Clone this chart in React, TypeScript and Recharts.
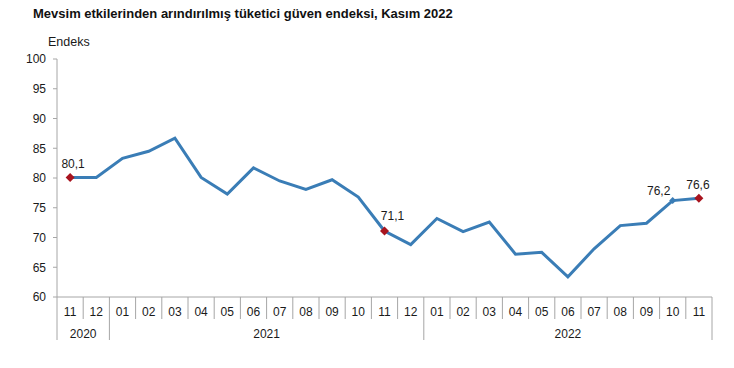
import { LineChart, Line, XAxis, YAxis, LabelList } from 'recharts';

const months = [
  '11', '12',
  '01', '02', '03', '04', '05', '06', '07', '08', '09', '10', '11', '12',
  '01', '02', '03', '04', '05', '06', '07', '08', '09', '10', '11',
];
const years = [
  '2020', '2020',
  '2021', '2021', '2021', '2021', '2021', '2021', '2021', '2021', '2021', '2021', '2021', '2021',
  '2022', '2022', '2022', '2022', '2022', '2022', '2022', '2022', '2022', '2022', '2022',
];
const values = [
  80.1, 80.1,
  83.3, 84.5, 86.7, 80.1, 77.3, 81.7, 79.5, 78.1, 79.7, 76.8, 71.1, 68.8,
  73.2, 71.0, 72.6, 67.2, 67.5, 63.4, 68.1, 72.0, 72.4, 76.2, 76.6,
];
const yTicks = [60, 65, 70, 75, 80, 85, 90, 95, 100];
// points that get a marker and a value label
const redPoints = [0, 12, 24];
const bluePoints = [23];

const data = months.map((m, i) => ({ key: `${years[i]}-${m}-${i}`, month: m, year: years[i], value: values[i] }));

const W = 734;
const H = 368;
const PLOT_LEFT = 57;
const PLOT_RIGHT = 712;
const PLOT_TOP = 59;
const PLOT_BOTTOM = 297;
const BAND = (PLOT_RIGHT - PLOT_LEFT) / months.length;
const AXIS = '#a6a6a6';
const TEXT = '#1a1a1a';
const FONT = '"Liberation Sans", Arial, sans-serif';

const labelShift: Record<number, [number, number]> = {
  0: [3, -9],
  12: [8, -11],
  23: [-14, -6],
  24: [-1, -9],
};

const isYearEnd = (i: number) => i === months.length - 1 || years[i + 1] !== years[i];

function MonthTick(props: any) {
  const { x, y, payload } = props;
  const i = payload.index as number;
  const right = x + BAND / 2;
  const left = x - BAND / 2;
  let yearLabel = null;
  if (i === 0 || years[i - 1] !== years[i]) {
    let last = i;
    while (last + 1 < years.length && years[last + 1] === years[i]) last++;
    yearLabel = (
      <text x={x + ((last - i) * BAND) / 2} y={y + 41} textAnchor="middle" fontSize={12} fill={TEXT} fontFamily={FONT}>
        {years[i]}
      </text>
    );
  }
  return (
    <g>
      {i === 0 && <line x1={left} x2={left} y1={y} y2={y + 43} stroke={AXIS} />}
      <line x1={right} x2={right} y1={y} y2={isYearEnd(i) ? y + 43 : y + 22} stroke={AXIS} />
      <text x={x} y={y + 19} textAnchor="middle" fontSize={12} fill={TEXT} fontFamily={FONT}>
        {months[i]}
      </text>
      {yearLabel}
    </g>
  );
}

function Marker(props: any) {
  const { cx, cy, index } = props;
  if (redPoints.includes(index)) {
    const r = 4.5;
    return (
      <path
        key={`d${index}`}
        d={`M${cx},${cy - r}L${cx + r},${cy}L${cx},${cy + r}L${cx - r},${cy}Z`}
        fill="#a8141f"
      />
    );
  }
  if (bluePoints.includes(index)) {
    const r = 3.5;
    return (
      <path
        key={`d${index}`}
        d={`M${cx},${cy - r}L${cx + r},${cy}L${cx},${cy + r}L${cx - r},${cy}Z`}
        fill="#3a7db6"
      />
    );
  }
  return <g key={`d${index}`} />;
}

function ValueLabel(props: any) {
  const { x, y, index, value } = props;
  const shift = labelShift[index];
  if (!shift) return null;
  return (
    <text x={x + shift[0]} y={y + shift[1]} textAnchor="middle" fontSize={12} fill={TEXT} fontFamily={FONT}>
      {String(value).replace('.', ',')}
    </text>
  );
}

export default function App() {
  return (
    <div style={{ position: 'absolute', left: 0, top: 0, width: W, height: H, background: '#fff' }}>
      <div
        style={{
          position: 'absolute',
          left: 33,
          top: 6,
          fontFamily: FONT,
          fontWeight: 'bold',
          fontSize: 13,
          color: '#111',
          whiteSpace: 'nowrap',
        }}
      >
        Mevsim etkilerinden arındırılmış tüketici güven endeksi, Kasım 2022
      </div>
      <div style={{ position: 'absolute', left: 48, top: 35, fontFamily: FONT, fontSize: 12.5, color: TEXT }}>
        Endeks
      </div>
      <LineChart
        width={W}
        height={H}
        data={data}
        margin={{ top: PLOT_TOP, right: W - PLOT_RIGHT, bottom: 0, left: 0 }}
      >
        <XAxis
          dataKey="key"
          scale="band"
          height={H - PLOT_BOTTOM}
          interval={0}
          tickLine={false}
          tickSize={0}
          tickMargin={0}
          axisLine={{ stroke: AXIS }}
          tick={MonthTick}
        />
        <YAxis
          width={PLOT_LEFT}
          domain={[60, 100]}
          ticks={yTicks}
          interval={0}
          tickSize={4}
          tickMargin={7}
          axisLine={{ stroke: AXIS }}
          tickLine={{ stroke: AXIS }}
          tick={{ fontSize: 12, fill: TEXT, fontFamily: FONT }}
        />
        <Line
          dataKey="value"
          stroke="#3a7db6"
          strokeWidth={3}
          dot={Marker}
          activeDot={false}
          isAnimationActive={false}
        >
          <LabelList dataKey="value" content={ValueLabel} />
        </Line>
      </LineChart>
    </div>
  );
}
